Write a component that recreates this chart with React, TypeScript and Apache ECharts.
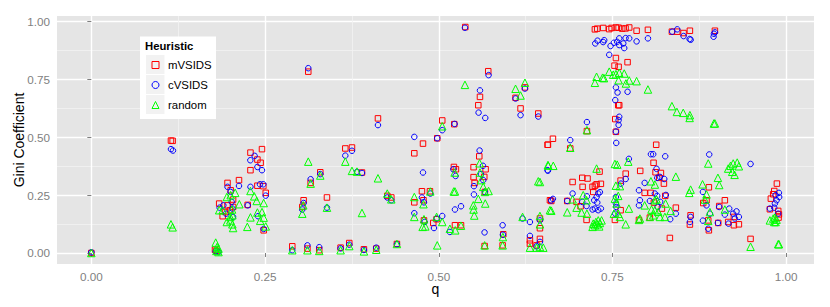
import React, { useEffect, useRef } from "react";
import * as echarts from "echarts";

const FONT = '"Liberation Sans", Arial, sans-serif';
const xTicks = [0, 0.25, 0.5, 0.75, 1];
const yTicks = [0, 0.25, 0.5, 0.75, 1];
const xMinor = [0.125, 0.375, 0.625, 0.875];
const yMinor = [0.125, 0.375, 0.625, 0.875];
const seriesNames = ["mVSIDS", "cVSIDS", "random"];

const mVSIDS = [
[0,0],[.1146,.486],[.117,.485],[.229,.434],[.2456,.449],[.229,.358],[.239,.404],[.2436,.39],[.196,.303],[.2125,.315],[.239,.291],[.2475,.289],[.251,.26],[.2005,.271],[.184,.2136],[.204,.231],[.196,.206],[.225,.208],[.189,.159],[.193,.177],[.1995,.185],[.204,.199],[.248,.098],[.178,.014],[.18,.009],
[.2892,.029],[.311,.019],[.328,.012],[.3587,.023],[.3712,.043],[.3923,.016],[.41,.019],[.4398,.039],[.3122,.784],[.3055,.228],[.3036,.199],[.3156,.303],[.3295,.349],[.3391,.24],[.3655,.452],[.3751,.456],[.3895,.348],[.4125,.582],[.4259,.247],[.4317,.24],[.4648,.431],[.4773,.473],[.4648,.219],[.4758,.267],[.4873,.267],[.4978,.496],[.505,.573],[.478,.228],[.4787,.141],[.4921,.13],[.4969,.146],[.5233,.12],[.532,.12],[.5223,.557],[.5218,.372],[.5247,.362],[.5382,.977],[.5501,.371],[.5501,.328],[.5516,.303],[.5583,.418],[.5569,.639],[.5593,.675],[.5674,.362],[.5655,.329],[.5712,.786],[.5664,.264],[.5928,.081],[.5919,.033],[.566,.03],[.6105,.671],[.6177,.625],[.6432,.603],[.624,.716],[.6456,.149],[.6456,.107],[.6312,.055],[.6312,.04],[.6456,.061],[.6408,.033],[.6566,.468],[.66,.228],
[.7247,.967],[.728,.97],[.7367,.973],[.7453,.968],[.7487,.973],[.7549,.975],[.7588,.974],[.764,.97],[.7688,.971],[.7741,.975],[.7847,.961],[.801,.965],[.8355,.957],[.8432,.957],[.8523,.951],[.8614,.961],[.8974,.961],[.7549,.843],[.7717,.825],[.753,.81],[.7588,.805],[.7597,.639],[.7583,.639],[.754,.579],[.7549,.524],[.7132,.527],[.6892,.452],[.6643,.494],[.6571,.468],
[.8129,.468],[.8091,.39],[.7314,.352],[.7899,.355],[.769,.343],[.812,.349],[.8197,.346],[.7065,.325],[.7141,.322],[.6926,.307],[.707,.286],[.7617,.313],[.824,.3],[.8173,.325],[.7247,.291],[.7213,.286],[.7333,.299],[.7271,.297],[.7223,.264],[.8887,.284],[.9866,.3],[.9828,.268],[.9813,.254],[.9779,.235],[.9117,.228],[.8806,.216],[.8853,.228],[.9036,.203],[.6849,.225],[.6619,.225],[.6983,.221],[.7041,.202],[.7963,.26],[.8049,.26],[.8259,.247],[.8412,.196],[.8096,.218],[.7127,.143],[.7535,.143],[.7881,.143],[.8038,.153],[.8211,.192],[.7617,.185],[.8326,.065],[.8624,.163],[.8614,.123],[.8887,.098],[.8878,.141],[.9022,.13],[.9165,.134],[.9247,.12],[.9319,.124],[.9487,.061],[.9765,.189],[.9885,.182],[.9895,.167],[.989,.153],[.9247,.156],
];

const cVSIDS = [
[0,.003],[.1146,.449],[.1175,.443],[.2288,.401],[.235,.42],[.239,.372],[.2456,.358],[.2427,.297],[.2475,.297],[.196,.286],[.2125,.29],[.229,.286],[.251,.248],[.2005,.264],[.1847,.196],[.19,.206],[.225,.206],[.202,.221],[.204,.156],[.194,.17],[.24,.159],[.248,.104],[.179,.007],[.183,.004],[.203,.192],
[.2892,.012],[.311,.033],[.328,.025],[.3587,.02],[.3712,.036],[.3923,.013],[.41,.023],[.4398,.038],[.3122,.799],[.3055,.216],[.3036,.188],[.3156,.319],[.3295,.341],[.3391,.196],[.3655,.421],[.3751,.442],[.3823,.351],[.3895,.346],[.4125,.553],[.4259,.24],[.4317,.228],[.4648,.502],[.4648,.172],[.4773,.348],[.4758,.24],[.4787,.219],[.4878,.257],[.4978,.496],[.505,.531],[.4797,.134],[.4931,.108],[.4969,.149],[.505,.16],[.516,.091],[.5228,.558],[.5209,.362],[.5242,.333],[.5233,.188],[.532,.202],[.5377,.974],[.5506,.289],[.5506,.253],[.5588,.443],[.5593,.703],[.5573,.607],[.5669,.584],[.5636,.377],[.5607,.341],[.564,.315],[.5664,.264],[.5659,.089],[.5717,.769],[.5919,.12],[.5923,.079],[.6105,.668],[.6177,.596],[.624,.711],[.6206,.149],[.6312,.134],[.6312,.074],[.6432,.59],[.6456,.141],[.6456,.048],[.6408,.029],[.6566,.358],
[.7252,.906],[.7285,.918],[.7367,.912],[.7381,.92],[.7472,.895],[.752,.909],[.7597,.928],[.7568,.913],[.7597,.899],[.7655,.906],[.7688,.929],[.7669,.886],[.7741,.928],[.7847,.915],[.801,.928],[.836,.957],[.8432,.967],[.8523,.938],[.861,.925],[.8625,.922],[.8974,.954],[.8955,.935],[.896,.948],[.7453,.857],[.7549,.716],[.7573,.694],[.7717,.697],[.754,.661],[.7597,.589],[.7588,.574],[.7588,.554],[.7549,.525],[.7554,.476],[.7132,.566],[.6892,.488],[.6571,.356],
[.7736,.407],[.8053,.427],[.8086,.427],[.8259,.418],[.8134,.364],[.8144,.325],[.8182,.329],[.8245,.32],[.769,.32],[.7622,.3],[.7963,.303],[.7881,.271],[.8892,.426],[.9487,.385],[.8801,.264],[.6926,.257],[.6643,.234],[.6619,.227],[.6849,.225],[.7065,.221],[.7132,.245],[.7127,.203],[.7319,.263],[.7295,.257],[.7271,.242],[.7237,.228],[.7281,.218],[.7247,.192],[.7295,.185],[.7333,.192],[.7213,.188],[.7549,.242],[.7549,.214],[.7554,.199],[.754,.17],[.7895,.228],[.7881,.206],[.8038,.225],[.811,.257],[.8144,.247],[.8268,.251],[.8187,.221],[.8149,.199],[.8412,.17],[.8331,.146],[.8624,.156],[.8614,.134],[.8801,.14],[.8902,.17],[.8853,.206],[.9036,.199],[.8878,.105],[.9017,.13],[.918,.192],[.917,.127],[.9285,.18],[.9237,.17],[.9319,.156],[.9261,.149],[.9117,.166],[.9765,.192],[.9895,.26],[.9899,.242],[.9862,.228],[.9837,.214],[.9828,.196],[.9847,.25],[.9885,.17],
];

const random = [
[0,0],[.1146,.124],[.117,.111],[.179,.045],[.181,.026],[.183,.019],[.18,.009],[.183,.004],[.184,.185],[.195,.242],[.2005,.25],[.207,.26],[.213,.211],[.229,.268],[.2345,.245],[.238,.225],[.248,.216],[.229,.154],[.2245,.113],[.239,.175],[.2456,.177],[.248,.153],[.243,.139],[.251,.115],[.195,.134],[.2,.141],[.2025,.188],[.203,.163],[.204,.108],[.203,.124],[.189,.185],[.2,.156],
[.2892,.012],[.311,.012],[.328,.009],[.3587,.012],[.3712,.03],[.3923,.007],[.41,.014],[.4398,.039],[.3122,.395],[.3036,.17],[.305,.206],[.3156,.3],[.3295,.335],[.3391,.196],[.3655,.395],[.3751,.355],[.3823,.352],[.3895,.173],[.4125,.323],[.4259,.257],[.4317,.232],[.4648,.242],[.4648,.156],[.478,.211],[.4787,.146],[.4768,.113],[.4806,.115],[.4878,.266],[.4969,.156],[.505,.134],[.505,.548],[.4978,.033],[.516,.105],[.5237,.098],[.532,.118],[.5233,.266],[.5215,.266],[.5228,.348],[.5377,.727],[.5497,.206],[.5501,.188],[.5511,.162],[.5569,.234],[.5588,.388],[.5593,.348],[.564,.286],[.5612,.315],[.5669,.214],[.5664,.264],[.5717,.268],[.566,.033],[.5923,.069],[.5919,.033],[.6105,.71],[.6177,.681],[.624,.736],[.6206,.156],[.6456,.16],[.6456,.124],[.6312,.023],[.6456,.026],[.6408,.023],[.6504,.023],[.6432,.31],[.6576,.378],[.66,.185],
[.7247,.736],[.7271,.762],[.7357,.758],[.7377,.756],[.7453,.784],[.751,.771],[.7549,.773],[.7597,.779],[.7669,.776],[.7588,.747],[.7693,.733],[.7741,.746],[.7847,.743],[.801,.707],[.8355,.635],[.8427,.61],[.8518,.606],[.8614,.596],[.861,.584],[.8959,.56],[.8974,.56],[.7132,.531],[.6892,.455],[.6571,.38],[.6648,.377],[.7271,.365],[.7535,.385],[.7568,.382],[.7727,.395],[.8878,.387],[.8412,.33],[.9017,.325],[.9036,.294],[.9165,.365],[.9199,.377],[.9237,.387],[.9295,.391],[.9319,.375],[.9257,.338],[.9223,.351],[.8796,.297],[.8624,.274],[.8605,.26],[.8853,.253],[.883,.231],[.6456,.307],[.7549,.291],[.7607,.289],[.8053,.31],[.811,.296],[.7079,.25],[.6926,.232],[.7127,.228],[.6983,.196],[.6849,.176],[.6619,.183],[.7055,.175],[.7132,.17],[.7583,.247],[.7535,.235],[.7558,.214],[.752,.17],[.7583,.17],[.7607,.156],[.7736,.192],[.769,.124],[.7895,.149],[.7881,.143],[.7963,.206],[.811,.228],[.8134,.232],[.8264,.214],[.8062,.188],[.811,.185],[.8158,.178],[.8086,.163],[.8182,.156],[.8254,.156],[.8038,.156],[.8336,.182],[.8902,.177],[.8878,.139],[.9117,.188],[.9487,.027],[.9885,.038],[.9895,.038],[.9765,.141],[.9813,.149],[.9837,.153],[.9861,.144],[.9847,.134],[.9828,.134],
[.7213,.113],[.7247,.12],[.7281,.124],[.7319,.13],[.7343,.141],[.7295,.141],[.7261,.134],[.7223,.127],[.7309,.115],
];

const symbols = ["rect", "circle", "triangle"];
const colors = ["#ff0000", "#0000ff", "#00ff00"];
const sizes = [5.5, 5.5, 7.5];
const dataSets = [mVSIDS, cVSIDS, random];

const X_MIN = -0.0494, X_MAX = 1.04, Y_MIN = -0.0476, Y_MAX = 1.0247;

export default function App() {
  const ref = useRef<HTMLDivElement>(null);
  useEffect(() => {
    const chart = echarts.init(ref.current!, null, { renderer: "svg" });
    const grid = { left: 57, top: 16, width: 757, height: 248, outerBoundsMode: "none" };
    const keyRect = (y: number) => ({
      type: "rect", z: 11, shape: { x: 146, y, width: 18.5, height: 19 }, style: { fill: "#f2f2f2" },
    });
    chart.setOption({
      animation: false,
      grid: [
        { ...grid, show: true, backgroundColor: "#e5e5e5", borderWidth: 0 },
        { ...grid },
      ],
      xAxis: [
        {
          gridIndex: 0, type: "value", min: X_MIN, max: X_MAX, name: "q", nameLocation: "middle", nameGap: 18, nameMoveOverlap: false,
          nameTextStyle: { fontFamily: FONT, fontSize: 14, color: "#000" },
          axisLine: { show: false },
          axisTick: { show: true, length: 4, lineStyle: { color: "#7f7f7f", width: 1 }, customValues: xTicks },
          axisLabel: { color: "#7f7f7f", fontFamily: FONT, fontSize: 11.7, margin: 6, customValues: xTicks, formatter: (v: number) => v.toFixed(2) },
          splitLine: { show: true, lineStyle: { color: "#ffffff", width: 1.4 } },
        },
        {
          gridIndex: 1, type: "value", min: X_MIN, max: X_MAX,
          axisLine: { show: false }, axisLabel: { show: false },
          axisTick: { show: false, customValues: xMinor },
          splitLine: { show: true, lineStyle: { color: "#f2f2f2", width: 0.8 } },
        },
      ],
      yAxis: [
        {
          gridIndex: 0, type: "value", min: Y_MIN, max: Y_MAX, name: "Gini Coefficient", nameLocation: "middle", nameGap: 31, nameMoveOverlap: false,
          nameTextStyle: { fontFamily: FONT, fontSize: 14, color: "#000" },
          axisLine: { show: false },
          axisTick: { show: true, length: 4, lineStyle: { color: "#7f7f7f", width: 1 }, customValues: yTicks },
          axisLabel: { color: "#7f7f7f", fontFamily: FONT, fontSize: 11.7, margin: 7, customValues: yTicks, formatter: (v: number) => v.toFixed(2) },
          splitLine: { show: true, lineStyle: { color: "#ffffff", width: 1.4 } },
        },
        {
          gridIndex: 1, type: "value", min: Y_MIN, max: Y_MAX,
          axisLine: { show: false }, axisLabel: { show: false },
          axisTick: { show: false, customValues: yMinor },
          splitLine: { show: true, lineStyle: { color: "#f2f2f2", width: 0.8 } },
        },
      ],
      legend: {
        show: true, z: 12, orient: "vertical", left: 151.5, top: 59.5,
        padding: 0, itemGap: 9, itemWidth: 7, itemHeight: 7,
        selectedMode: false,
        itemStyle: { borderWidth: 1 },
        textStyle: { fontFamily: FONT, fontSize: 11.4, color: "#000", padding: [0, 0, 0, 4] },
        data: seriesNames,
      },
      series: seriesNames.map((name, i) => ({
        name, type: "scatter", xAxisIndex: 0, yAxisIndex: 0, data: dataSets[i],
        symbol: symbols[i], symbolSize: sizes[i], z: 3 + i,
        itemStyle: { color: "rgba(0,0,0,0)", borderColor: colors[i], borderWidth: 1, opacity: 1 },
      })),
      graphic: [
        { type: "rect", z: 10, shape: { x: 140, y: 36.5, width: 76, height: 82.5 }, style: { fill: "#ffffff" } },
        keyRect(55), keyRect(75), keyRect(95),
        { type: "text", z: 13, x: 145, y: 40.5, style: { text: "Heuristic", fontFamily: FONT, fontSize: 11.3, fontWeight: "bold", fill: "#000" } },
      ],
    });
    return () => chart.dispose();
  }, []);
  return <div ref={ref} style={{ position: "absolute", left: 0, top: 0, width: 830, height: 307 }} />;
}
